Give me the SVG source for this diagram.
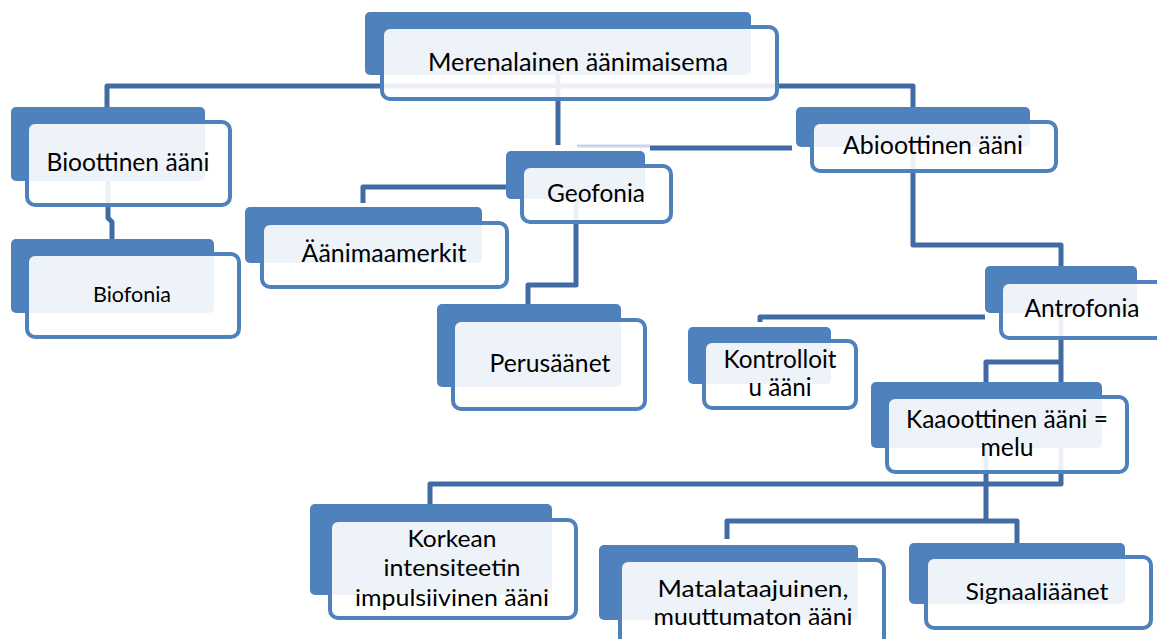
<svg xmlns="http://www.w3.org/2000/svg" width="1157" height="639" viewBox="0 0 1157 639">
<style>
.bk{fill:#4F81BD}
.fr{fill:#FFFFFF;fill-opacity:0.9;stroke:#4F81BD;stroke-width:4}
.cn{fill:none;stroke:#416CA3;stroke-width:5;stroke-linejoin:round}
.fa{fill:none;stroke:#C9D6EA;stroke-width:3}
text{font-family:Lato,"Noto Sans","Liberation Sans",sans-serif;font-size:25px;fill:#000;text-anchor:middle}
.s{font-size:22px}
.m{font-size:24px}
</style>
<rect width="1157" height="639" fill="#FFFFFF"/>
<g id="connectors">
<path class="cn" d="M107 107 V86 H913 V107"/>
<path class="cn" d="M558 75 V145"/>
<path class="fa" d="M577 146 H650"/>
<path class="cn" d="M650 148 H792"/>
<path class="cn" d="M108 181 V218 L112 222 V239"/>
<path class="cn" d="M506 187 H363 V203"/>
<path class="cn" d="M576 199 V285 H528 V304"/>
<path class="cn" d="M913 147 V245 H1061 V266"/>
<path class="cn" d="M985 317 H760 V322"/>
<path class="cn" d="M1061 313 V382 M1061 362 H986 V382"/>
<path class="cn" d="M1061 448 V484 H430 V504"/>
<path class="cn" d="M986 448 V521 M727 539 V521 H1017 V543"/>
</g>
<g id="root">
<rect class="bk" x="365" y="12" width="386" height="63" rx="5"/>
<rect class="fr" x="382" y="27" width="395" height="72" rx="8"/>
<text x="578" y="71" textLength="300" lengthAdjust="spacingAndGlyphs">Merenalainen äänimaisema</text>
</g>
<g id="bioottinen">
<rect class="bk" x="11" y="107" width="194" height="74" rx="5"/>
<rect class="fr" x="27" y="122" width="203" height="83" rx="8"/>
<text x="128" y="171" textLength="163" lengthAdjust="spacingAndGlyphs">Bioottinen ääni</text>
</g>
<g id="biofonia">
<rect class="bk" x="11" y="239" width="203" height="74" rx="5"/>
<rect class="fr" x="27" y="254" width="212" height="83" rx="8"/>
<text class="s" x="132" y="302" textLength="78" lengthAdjust="spacingAndGlyphs">Biofonia</text>
</g>
<g id="aanimaamerkit">
<rect class="bk" x="245" y="207" width="237" height="56" rx="5"/>
<rect class="fr" x="262" y="223" width="245" height="64" rx="8"/>
<text x="384" y="262" textLength="165" lengthAdjust="spacingAndGlyphs">Äänimaamerkit</text>
</g>
<g id="geofonia">
<rect class="bk" x="506" y="151" width="139" height="48" rx="5"/>
<rect class="fr" x="522" y="166" width="149" height="56" rx="8"/>
<text x="596" y="202" textLength="98" lengthAdjust="spacingAndGlyphs">Geofonia</text>
</g>
<g id="perusaanet">
<rect class="bk" x="437" y="304" width="184" height="83" rx="5"/>
<rect class="fr" x="453" y="320" width="192" height="89" rx="8"/>
<text x="550" y="372" textLength="121" lengthAdjust="spacingAndGlyphs">Perusäänet</text>
</g>
<g id="abioottinen">
<rect class="bk" x="796" y="107" width="234" height="40" rx="5"/>
<rect class="fr" x="812" y="122" width="244" height="49" rx="8"/>
<text x="933" y="154" textLength="180" lengthAdjust="spacingAndGlyphs">Abioottinen ääni</text>
</g>
<g id="antrofonia">
<rect class="bk" x="985" y="266" width="152" height="47" rx="5"/>
<rect class="fr" x="1001" y="282" width="170" height="56" rx="8"/>
<text x="1082" y="317" textLength="115" lengthAdjust="spacingAndGlyphs">Antrofonia</text>
</g>
<g id="kontrolloitu">
<rect class="bk" x="688" y="327" width="143" height="57" rx="5"/>
<rect class="fr" x="704" y="341" width="152" height="67" rx="8"/>
<text x="780" y="368" textLength="113" lengthAdjust="spacingAndGlyphs">Kontrolloit</text>
<text x="780" y="396" textLength="63" lengthAdjust="spacingAndGlyphs">u ääni</text>
</g>
<g id="kaaoottinen">
<rect class="bk" x="871" y="382" width="231" height="66" rx="5"/>
<rect class="fr" x="887" y="397" width="240" height="75" rx="8"/>
<text x="1007" y="428" textLength="202" lengthAdjust="spacingAndGlyphs">Kaaoottinen ääni =</text>
<text x="1007" y="456" textLength="53" lengthAdjust="spacingAndGlyphs">melu</text>
</g>
<g id="korkean">
<rect class="bk" x="310" y="504" width="242" height="91" rx="5"/>
<rect class="fr" x="330" y="520" width="246" height="98" rx="8"/>
<text class="m" x="452" y="547" textLength="89" lengthAdjust="spacingAndGlyphs">Korkean</text>
<text class="m" x="452" y="576" textLength="137" lengthAdjust="spacingAndGlyphs">intensiteetin</text>
<text class="m" x="452" y="606" textLength="194" lengthAdjust="spacingAndGlyphs">impulsiivinen ääni</text>
</g>
<g id="matalataajuinen">
<rect class="bk" x="599" y="545" width="259" height="75" rx="5"/>
<rect class="fr" x="620" y="560" width="264" height="90" rx="8"/>
<text class="m" x="753" y="597" textLength="191" lengthAdjust="spacingAndGlyphs">Matalataajuinen,</text>
<text class="m" x="753" y="625" textLength="199" lengthAdjust="spacingAndGlyphs">muuttumaton ääni</text>
</g>
<g id="signaaliaanet">
<rect class="bk" x="909" y="543" width="216" height="61" rx="5"/>
<rect class="fr" x="926" y="557" width="225" height="71" rx="8"/>
<text class="m" x="1037" y="600" textLength="143" lengthAdjust="spacingAndGlyphs">Signaaliäänet</text>
</g>
</svg>
